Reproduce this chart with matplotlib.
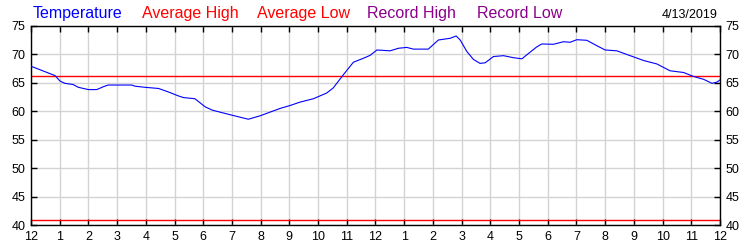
import matplotlib
matplotlib.use("Agg")
import matplotlib.pyplot as plt

plt.rcParams['font.family'] = ['Liberation Sans', 'DejaVu Sans']

# hours since midnight and temperature readings (deg F)
hours = [0.0, 0.84, 1.01, 1.18, 1.46, 1.65, 2.0, 2.29, 2.52, 2.69, 3.51, 3.62,
         3.97, 4.44, 4.78, 5.13, 5.31, 5.71, 6.06, 6.31, 6.93, 7.57, 7.98,
         8.68, 9.02, 9.37, 9.84, 10.3, 10.53, 10.88, 11.23, 11.58, 11.81,
         12.05, 12.51, 12.8, 13.09, 13.32, 13.84, 14.19, 14.6, 14.81, 14.95,
         15.18, 15.41, 15.64, 15.82, 16.11, 16.46, 16.8, 17.1, 17.27, 17.62,
         17.79, 18.2, 18.55, 18.78, 19.01, 19.36, 19.71, 20.0, 20.41, 20.87,
         21.34, 21.8, 22.26, 22.73, 23.08, 23.43, 23.72, 23.89, 24.0]
temps = [67.9, 66.25, 65.3, 64.9, 64.7, 64.2, 63.8, 63.8, 64.3, 64.6, 64.6, 64.4,
         64.2, 64.0, 63.4, 62.7, 62.4, 62.2, 60.8, 60.2, 59.4, 58.6, 59.2,
         60.5, 61.0, 61.6, 62.2, 63.2, 64.1, 66.4, 68.6, 69.3, 69.8,
         70.75, 70.6, 71.05, 71.2, 70.9, 70.9, 72.5, 72.8, 73.2, 72.5,
         70.5, 69.1, 68.4, 68.5, 69.6, 69.75, 69.4, 69.2, 69.9, 71.3,
         71.8, 71.75, 72.2, 72.1, 72.55, 72.45, 71.5, 70.75, 70.6, 69.75,
         68.9, 68.3, 67.1, 66.8, 66.1, 65.6, 64.9, 65.1, 65.5]
avg_high = 66.1
avg_low = 40.9

x_labels = ['12'] + [str(i) for i in range(1, 12)] + ['12'] + [str(i) for i in range(1, 12)] + ['12']
y_ticks = [40, 45, 50, 55, 60, 65, 70, 75]

fig = plt.figure(figsize=(7.5, 2.5), dpi=100)
ax = fig.add_axes([0.0413, 0.099, 0.9187, 0.798])

ax.plot(hours, temps, color='#0000ff', lw=0.8, zorder=3)
ax.axhline(avg_high, color='#ff0000', lw=1.0, zorder=2)
ax.axhline(avg_low, color='#ff0000', lw=1.0, zorder=2)

ax.set_xlim(0, 24)
ax.set_ylim(40, 75)
ax.set_xticks(range(25))
ax.set_xticklabels(x_labels)
ax.set_yticks(y_ticks)
ax.grid(True, color='#d3d3d3', lw=1.0, zorder=0)
ax.set_axisbelow(True)
ax.tick_params(direction='in', length=4, width=1, top=True, right=True,
               labelright=True, labelsize=9, pad=4)
for s in ax.spines.values():
    s.set_color('black')
    s.set_linewidth(1.0)

# header legend
y_head = 0.928
fig.text(33 / 750, y_head, 'Temperature', color='#0000ff', fontsize=11.5, va='baseline')
fig.text(142 / 750, y_head, 'Average High', color='#ff0000', fontsize=11.5, va='baseline')
fig.text(257 / 750, y_head, 'Average Low', color='#ff0000', fontsize=11.5, va='baseline')
fig.text(367 / 750, y_head, 'Record High', color='#8b008b', fontsize=11.5, va='baseline')
fig.text(477 / 750, y_head, 'Record Low', color='#8b008b', fontsize=11.5, va='baseline')
fig.text(718 / 750, y_head, '4/13/2019', color='black', fontsize=9, va='baseline', ha='right')

fig.savefig('out.png', dpi=100)
